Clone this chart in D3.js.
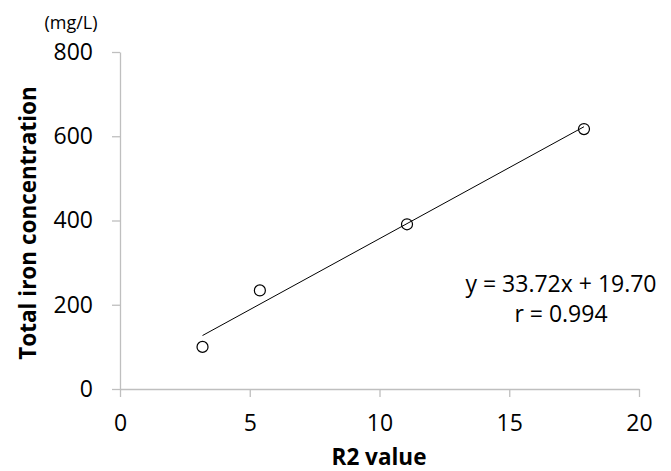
<!DOCTYPE html>
<html lang="en">
<head>
  <meta charset="UTF-8">
  <title>Total iron vs R2</title>
  <style>
    body { margin: 0; background: #fff; }
    svg text { font-family: "Open Sans", "DejaVu Sans", sans-serif; fill: #000; }
    .axis path, .axis line { stroke: #bfbfbf; stroke-width: 1.3; }
    .axis text { font-size: 23px; }
    .title { font-weight: bold; font-size: 22.5px; }
  </style>
</head>
<body>
  <svg id="chart"></svg>
  <script src="https://cdn.jsdelivr.net/npm/d3@7"></script>
  <script>
    // data
    var r2Values = [3.18, 5.39, 11.06, 17.88];
    var ironValues = [100, 234, 391, 617];
    var xTicks = [0, 5, 10, 15, 20];
    var yTicks = [0, 200, 400, 600, 800];
    var slope = 33.72, intercept = 19.70, rValue = 0.994;

    var width = 671, height = 471;
    var margin = { top: 52, right: 32, bottom: 82, left: 120 };

    var svg = d3.select('#chart')
      .attr('width', width)
      .attr('height', height);

    var x = d3.scaleLinear()
      .domain([0, 20])
      .range([margin.left, width - margin.right]);

    var y = d3.scaleLinear()
      .domain([0, 800])
      .range([height - margin.bottom, margin.top]);

    var xAxis = svg.append('g')
      .attr('class', 'axis')
      .attr('transform', 'translate(0,' + y(0) + ')')
      .call(d3.axisBottom(x).tickValues(xTicks).tickSize(8).tickSizeOuter(0).tickPadding(18));

    var yAxis = svg.append('g')
      .attr('class', 'axis')
      .attr('transform', 'translate(' + x(0) + ',0)')
      .call(d3.axisLeft(y).tickValues(yTicks).tickSize(8).tickSizeOuter(0).tickPadding(19));

    xAxis.selectAll('text').attr('font-family', null).attr('font-size', null);
    yAxis.selectAll('text').attr('font-family', null).attr('font-size', null);

    // trendline over the data range
    var xMin = d3.min(r2Values), xMax = d3.max(r2Values);
    svg.append('line')
      .attr('x1', x(xMin))
      .attr('y1', y(slope * xMin + intercept))
      .attr('x2', x(xMax))
      .attr('y2', y(slope * xMax + intercept))
      .attr('stroke', '#000')
      .attr('stroke-width', 1);

    svg.selectAll('circle')
      .data(r2Values)
      .enter()
      .append('circle')
      .attr('cx', d => x(d))
      .attr('cy', (d, i) => y(ironValues[i]))
      .attr('r', 5.5)
      .attr('fill', 'none')
      .attr('stroke', '#000')
      .attr('stroke-width', 1.2);

    // equation
    svg.append('text')
      .attr('x', 561).attr('y', 292)
      .attr('text-anchor', 'middle')
      .style('font-size', '23px')
      .text('y = ' + slope.toFixed(2) + 'x + ' + intercept.toFixed(2));
    svg.append('text')
      .attr('x', 561).attr('y', 322)
      .attr('text-anchor', 'middle')
      .style('font-size', '23px')
      .text('r = ' + rValue.toFixed(3));

    // titles
    svg.append('text')
      .attr('class', 'title')
      .attr('x', 379)
      .attr('y', 465)
      .attr('text-anchor', 'middle')
      .text('R2 value');

    svg.append('text')
      .attr('class', 'title')
      .attr('transform', 'translate(36,' + 223 + ') rotate(-90)')
      .attr('text-anchor', 'middle')
      .text('Total iron concentration');

    svg.append('text')
      .attr('x', 71).attr('y', 29)
      .attr('text-anchor', 'middle')
      .style('font-size', '18px')
      .text('(mg/L)');
  </script>
</body>
</html>
